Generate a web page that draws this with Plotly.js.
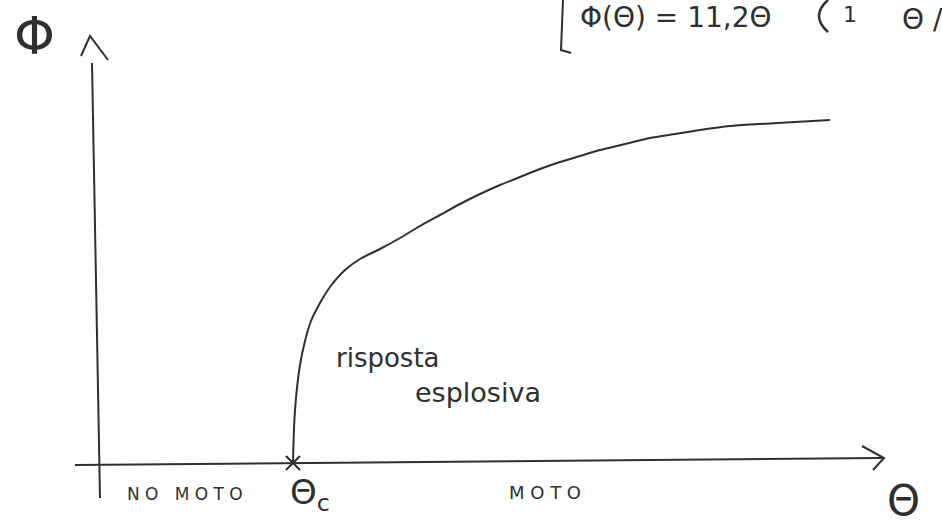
<!DOCTYPE html>
<html>
<head>
<meta charset="utf-8">
<script src="https://cdn.plot.ly/plotly-3.0.1.min.js"></script>
<style>
  html, body { margin: 0; padding: 0; background: #fff; }
  #chart { width: 942px; height: 526px; }
</style>
</head>
<body>
<div id="chart"></div>
<script>
// Sketch of the response Φ(Θ): zero below the critical value Θc,
// then an "explosive" rise that levels off.
const theta = [1.0, 1.005, 1.015, 1.035, 1.06, 1.09, 1.135, 1.185, 1.26, 1.335, 1.435, 1.535, 1.635, 1.735, 1.835, 1.935, 2.035, 2.135, 2.235, 2.335, 2.435, 2.535, 2.66, 2.785, 2.91, 3.035, 3.185, 3.335, 3.51, 3.685];
const phi   = [0.0, 0.35, 0.65, 0.98, 1.22, 1.42, 1.6, 1.76, 1.93, 2.04, 2.14, 2.25, 2.37, 2.48, 2.59, 2.69, 2.78, 2.86, 2.94, 3.01, 3.07, 3.13, 3.19, 3.25, 3.29, 3.33, 3.37, 3.39, 3.41, 3.43];

const thetaC = 1.0;          // critical value marked on the Θ axis
const regionLabels = ["N O   M O T O", "M O T O"];
const ink = "#2f2f2f";
const font = "DejaVu Sans";

// pixel <-> data helpers (plot area fills the whole page)
const X0 = 93, XS = 200, Y0 = 463, YS = 100;
const tx = px => (px - X0) / XS;
const ty = py => (Y0 - py) / YS;

const traces = [
  {
    x: theta, y: phi, mode: "lines", type: "scatter",
    line: { color: ink, width: 2, shape: "spline", smoothing: 0.6 },
    hoverinfo: "skip"
  },
  {
    x: [thetaC], y: [0], mode: "markers", type: "scatter",
    marker: { symbol: "x-thin", size: 14, line: { color: ink, width: 2 } },
    hoverinfo: "skip"
  }
];

const shapes = [
  // Θ axis
  { type: "line", xref: "x", yref: "y", x0: tx(75), y0: ty(465), x1: tx(882), y1: ty(458),
    line: { color: ink, width: 2 } },
  { type: "path", xref: "x", yref: "y",
    path: `M ${tx(862)} ${ty(446)} L ${tx(884)} ${ty(458)} L ${tx(873)} ${ty(470)}`,
    line: { color: ink, width: 2 } },
  // Φ axis
  { type: "line", xref: "x", yref: "y", x0: tx(92), y0: ty(63), x1: tx(100), y1: ty(498),
    line: { color: ink, width: 2 } },
  { type: "path", xref: "x", yref: "y",
    path: `M ${tx(81)} ${ty(56)} L ${tx(90)} ${ty(36)} L ${tx(108)} ${ty(60)}`,
    line: { color: ink, width: 2 } },
  // bracket of the formula at the top
  { type: "path", xref: "paper", yref: "paper",
    path: `M ${563/942} ${1-0/526} L ${561/942} ${1-50/526} L ${571/942} ${1-53/526}`,
    line: { color: ink, width: 2 } },
  // large parenthesis
  { type: "path", xref: "paper", yref: "paper",
    path: `M ${828/942} ${1-0/526} Q ${810/942} ${1-16/526} ${828/942} ${1-32/526}`,
    line: { color: ink, width: 2.5 } }
];

const txt = (text, px, py, size, extra) => Object.assign({
  text: text, xref: "paper", yref: "paper", x: px / 942, y: 1 - py / 526,
  showarrow: false, xanchor: "center", yanchor: "middle",
  font: { family: font, size: size, color: ink }
}, extra || {});

const annotations = [
  txt("Φ", 34, 36, 52),
  txt("Θ", 903, 500, 42),
  txt("Θ<sub>c</sub>", 310, 494, 34),
  txt(regionLabels[0], 185, 494, 17),
  txt(regionLabels[1], 545, 492, 18),
  txt("risposta", 388, 358, 26),
  txt("esplosiva", 478, 392, 27),
  txt("Φ(Θ) = 11,2Θ", 676, 17, 28),
  txt("1", 850, 14, 22),
  txt("Θ /", 922, 20, 28)
];

const layout = {
  width: 942, height: 526,
  margin: { l: 0, r: 0, t: 0, b: 0 },
  paper_bgcolor: "#ffffff", plot_bgcolor: "#ffffff",
  showlegend: false,
  xaxis: { range: [tx(0), tx(942)], visible: false, fixedrange: true },
  yaxis: { range: [ty(526), ty(0)], visible: false, fixedrange: true },
  shapes: shapes,
  annotations: annotations
};

Plotly.newPlot("chart", traces, layout, { staticPlot: true, displayModeBar: false });
</script>
</body>
</html>
